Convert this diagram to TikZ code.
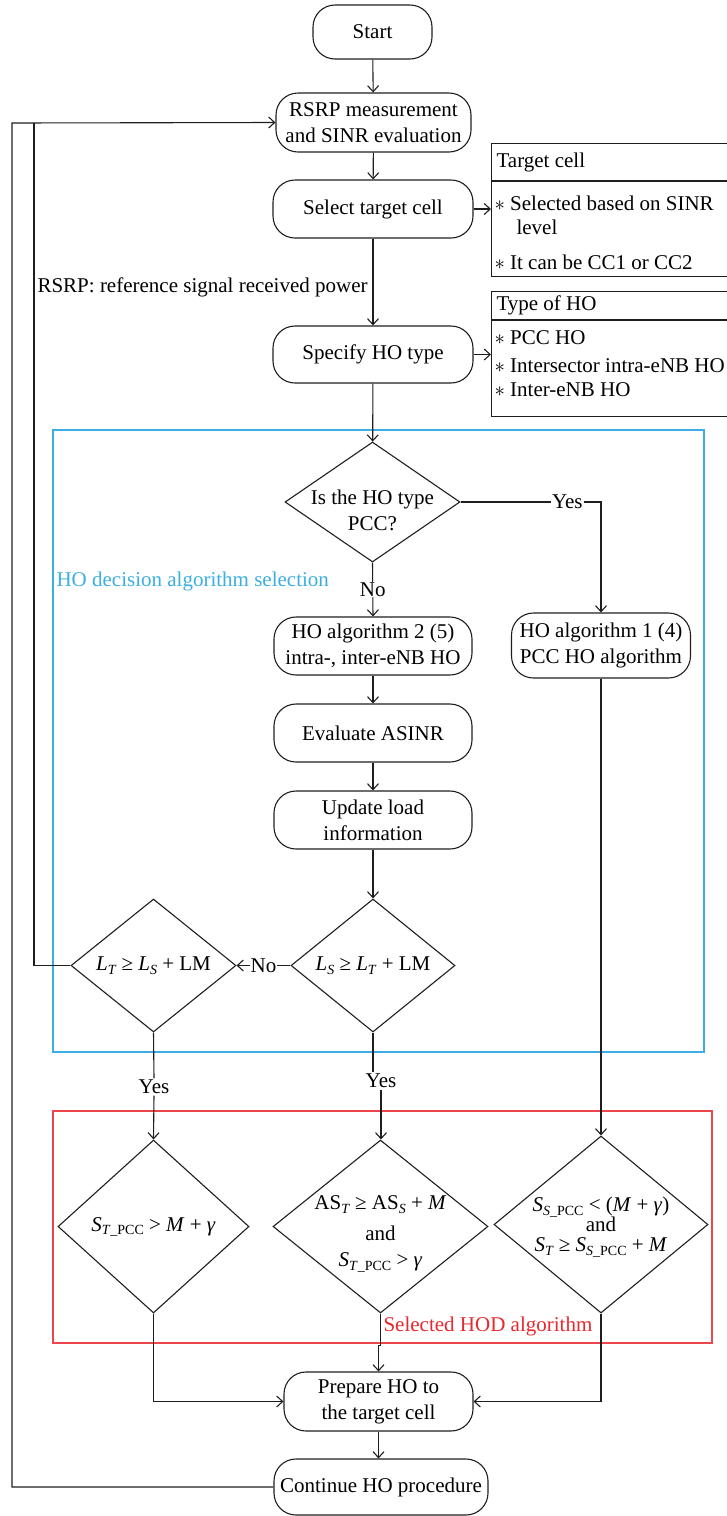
\documentclass[tikz,border=0pt]{standalone}
\usepackage{fontspec}
\setmainfont{Liberation Serif}
\usetikzlibrary{shapes.geometric,arrows.meta}
\definecolor{lineC}{RGB}{30,30,30}
\definecolor{blueC}{RGB}{59,174,227}
\definecolor{redC}{RGB}{236,70,76}
\definecolor{redT}{RGB}{232,40,46}
\newcommand{\lo}[1]{\raisebox{-0.35ex}{\fontsize{14}{14}\selectfont #1}}
\begin{document}
\begin{tikzpicture}[x=1pt,y=-1pt,line width=1.1pt,draw=lineC,
  >={Straight Barb[length=6pt,width=11pt]},
  font=\fontsize{21}{26}\selectfont,
  box/.style={draw=lineC,rectangle,rounded corners=22pt,align=center,inner sep=2pt},
  dia/.style={draw=lineC,diamond,inner sep=0pt},
  txt/.style={align=center,inner sep=1pt},
  lbl/.style={fill=white,inner sep=1pt},
  sidebox/.style={draw=lineC,rectangle,anchor=north west,inner sep=0pt,minimum width=260pt},
  sidetxt/.style={anchor=west,inner sep=0pt}]
\clip (0,0) rectangle (727,1516);

% group frames
\draw[blueC,line width=1.3pt] (53,430) rectangle (704,1052);
\draw[redC,line width=1.3pt] (53,1111) rectangle (712,1343);
\node[sidetxt,text=blueC] (bt) at (56,581) {HO decision algorithm selection};
\node[sidetxt,text=redT] (rt) at (383,1326) {Selected HOD algorithm};

% main boxes
\node[box,minimum width=119pt,minimum height=54pt] (start) at (372.5,32) {Start};
\node[box,minimum width=195pt,minimum height=59pt] (rsrp) at (373.5,122.5) {RSRP measurement\\and SINR evaluation};
\node[box,minimum width=200pt,minimum height=58pt] (sel) at (373,209) {Select target cell};
\node[box,minimum width=200pt,minimum height=57pt] (spec) at (373,354.5) {Specify HO type};
\node[box,minimum width=198pt,minimum height=58pt] (alg2) at (373,646) {HO algorithm 2 (5)\\intra-, inter-eNB HO};
\node[box,minimum width=179pt,minimum height=65pt] (alg1) at (601,645.5) {HO algorithm 1 (4)\\PCC HO algorithm};
\node[box,minimum width=198pt,minimum height=58pt] (eval) at (373,733) {Evaluate ASINR};
\node[box,minimum width=198pt,minimum height=58pt] (upd) at (373,820) {Update load\\information};
\node[box,minimum width=189pt,minimum height=59pt] (prep) at (378.5,1401.5) {Prepare HO to\\the target cell};
\node[box,minimum width=214pt,minimum height=56pt,inner sep=0pt] (cont) at (381,1487) {Continue HO procedure};

\node[sidetxt] (rsrpnote) at (37,287) {RSRP: reference signal received power};

% side boxes
\node[sidebox,minimum height=133pt] (tc) at (491,143) {};
\draw (tc.west |- 0,181) -- (tc.east |- 0,181);
\node[sidetxt] (tch) at (496,162) {Target cell};
\node[sidetxt] (tc1) at (494,203) {$\ast$ Selected based on SINR};
\node[sidetxt] (tc2) at (516,227) {level};
\node[sidetxt] (tc3) at (494,262) {$\ast$ It can be CC1 or CC2};

\node[sidebox,minimum height=125pt] (th) at (491,291) {};
\draw (th.west |- 0,320) -- (th.east |- 0,320);
\node[sidetxt] (thh) at (496,305) {Type of HO};
\node[sidetxt] (th1) at (494,338) {$\ast$ PCC HO};
\node[sidetxt] (th2) at (494,366) {$\ast$ Intersector intra-eNB HO};
\node[sidetxt] (th3) at (494,390) {$\ast$ Inter-eNB HO};

% diamonds
\node[dia,minimum width=175pt,minimum height=120pt] (d1) at (372.5,502) {};
\node[txt] (d1t) at (372.5,510) {Is the HO type\\PCC?};
\node[dia,minimum width=164pt,minimum height=133pt] (LS) at (373,965.5) {};
\node[txt] (LSt) at (373,965.5) {\textit{L}\lo{\textit{S}} ≥ \textit{L}\lo{\textit{T}} + LM};
\node[dia,minimum width=165pt,minimum height=133pt] (LT) at (153.5,965.5) {};
\node[txt] (LTt) at (153.5,965.5) {\textit{L}\lo{\textit{T}} ≥ \textit{L}\lo{\textit{S}} + LM};
\node[dia,minimum width=191pt,minimum height=173pt] (dl) at (153.5,1226.5) {};
\node[txt] (dlt) at (153.5,1227) {\textit{S}\lo{\textit{T}\_PCC} \textgreater{} \textit{M} + \textit{γ}};
\node[dia,minimum width=215pt,minimum height=173pt] (dm) at (380.5,1226.5) {};
\node[txt] (dmt) at (380.5,1234) {AS\lo{\textit{T}} ≥ AS\lo{\textit{S}} + \textit{M}\\[5pt]and\\\textit{S}\lo{\textit{T}\_PCC} \textgreater{} \textit{γ}};
\node[dia,minimum width=214pt,minimum height=177pt] (dr) at (601,1224.5) {};
\node[txt,font=\fontsize{21}{20}\selectfont] (drt) at (601,1227) {\textit{S}\lo{\textit{S}\_PCC} \textless{} (\textit{M} + \textit{γ})\\and\\\textit{S}\lo{\textit{T}} ≥ \textit{S}\lo{\textit{S}\_PCC} + \textit{M}};

% labels
\node[txt] (y1) at (154,1087) {Yes};
\node[txt] (y2) at (381,1081) {Yes};
\coordinate (fbi) at (34,123);
\coordinate (fbo) at (12,123);

% connectors
\draw[->] (start) -- (rsrp);
\draw[->] (rsrp) -- (sel);
\draw[->] (sel) -- (spec);
\draw[->] (sel.east) -- (sel.east -| tc.west);
\draw[->] (spec.east) -- (spec.east -| th.west);
\draw[->] (spec) -- (d1);
\draw[->] (d1.south) -- node[lbl,pos=0.5]{No} (alg2.north);
\draw[->] (d1.east) -| node[lbl,pos=0.38]{Yes} (alg1.north);
\draw[->] (alg2) -- (eval);
\draw[->] (eval) -- (upd);
\draw[->] (upd) -- (LS);
\draw[->] (LS.west) -- node[lbl]{No} (LT.east);
\draw (LT.west) -| (fbi);
\draw[->] (cont.west) -| (fbo) -- (rsrp.west);
\draw (LT.south) -- (y1.north);
\draw[->] (y1.south) -- (dl.north);
\draw (LS.south) -- (LS.south |- y2.north);
\draw[->] (y2.south) -- (y2.south |- dm.north);
\draw[->] (alg1.south) -- (alg1.south |- dr.north);
\draw[->] (dl.south) |- (prep.west);
\draw[->] (dr.south) |- (prep.east);
\draw[->] (dm.south) -- ++(0,32) -| (prep.north);
\draw[->] (prep.south) -- (prep.south |- cont.north);
\end{tikzpicture}
\end{document}
